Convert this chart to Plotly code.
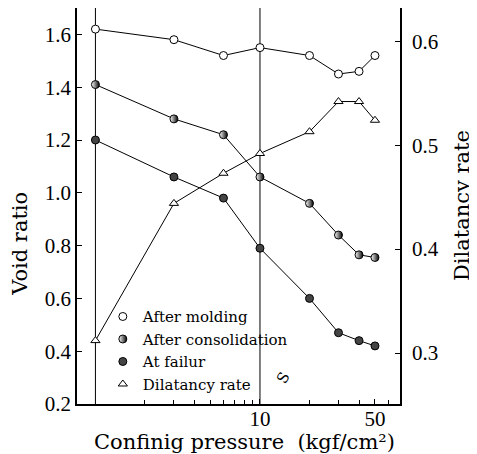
import plotly.graph_objects as go

# confining pressure (kgf/cm2)
pressure = [1, 3, 6, 10, 20, 30, 40, 50]

# void ratio (left axis)
after_molding = [1.62, 1.58, 1.52, 1.55, 1.52, 1.45, 1.46, 1.52]
after_consolidation = [1.41, 1.28, 1.22, 1.06, 0.96, 0.84, 0.765, 0.755]
at_failure = [1.20, 1.06, 0.98, 0.79, 0.60, 0.47, 0.44, 0.42]

# dilatancy rate (right axis)
dilatancy_rate = [0.312, 0.444, 0.473, 0.492, 0.513, 0.542, 0.542, 0.524]

serif = "Liberation Serif"
wide = "DejaVu Serif"

fig = go.Figure()

def addSeries(y, name, marker, axis="y"):
    # line without legend, then markers carrying the legend entry
    fig.add_trace(go.Scatter(x=pressure, y=y, mode="lines", yaxis=axis,
                             line=dict(color="black", width=1), showlegend=False,
                             hoverinfo="skip"))
    fig.add_trace(go.Scatter(x=pressure, y=y, mode="markers", name=name,
                             yaxis=axis, marker=marker))

addSeries(after_molding, "After molding",
          dict(symbol="circle", size=8, color="white", line=dict(color="black", width=1)))
addSeries(after_consolidation, "After consolidation",
          dict(symbol="circle", size=8, color="white",
               gradient=dict(type="horizontal", color="black"),
               line=dict(color="black", width=1)))
addSeries(at_failure, "At failur",
          dict(symbol="circle", size=8, color="#444", line=dict(color="black", width=1)))
addSeries(dilatancy_rate, "Dilatancy rate",
          dict(symbol="triangle-up", size=8, color="white", line=dict(color="black", width=1)),
          axis="y2")

# vertical reference lines at 1 and 10
for xv in [1, 10]:
    fig.add_shape(type="line", xref="x", yref="paper", x0=xv, x1=xv, y0=0, y1=1,
                  line=dict(color="black", width=1), layer="below")

titlefont = dict(family=wide, size=21, color="black")
fig.add_annotation(text="Void ratio", textangle=-90, xref="paper", yref="paper",
                   x=-0.177, y=0.404, xanchor="center", yanchor="middle",
                   showarrow=False, font=titlefont)
fig.add_annotation(text="Dilatancy rate", textangle=-90, xref="paper", yref="paper",
                   x=1.192, y=0.5, xanchor="center", yanchor="middle",
                   showarrow=False, font=titlefont)
fig.add_annotation(text="Confinig pressure  (kgf/cm²)", xref="paper", yref="paper",
                   x=0.52, y=-0.096, xanchor="center", yanchor="middle",
                   showarrow=False, font=titlefont)
fig.add_annotation(text="S", textangle=-60, xref="paper", yref="paper",
                   x=0.638, y=0.066, xanchor="center", yanchor="middle",
                   showarrow=False, font=dict(family=wide, size=15, color="black"))

# page body has an 8px margin, so the figure is laid out 8px up and left
fig.update_layout(
    width=477, height=454,
    margin=dict(l=69, r=85, t=0, b=58, autoexpand=False),
    plot_bgcolor="white", paper_bgcolor="white",
    font=dict(family=serif, color="black"),
    xaxis=dict(type="log", range=[-0.112, 1.851], automargin=False,
               tickvals=[10, 50], ticktext=["10", "50"],
               ticks="inside", ticklen=5, tickcolor="black",
               minor=dict(tickvals=[2, 3, 4, 5, 6, 7, 8, 9, 20, 30, 40, 60],
                          ticks="inside", ticklen=4, tickcolor="black"),
               tickfont=dict(family=serif, size=21), ticklabelstandoff=-5,
               showgrid=False, zeroline=False,
               showline=True, linecolor="black", linewidth=1.5, mirror=True),
    yaxis=dict(range=[0.2, 1.70], automargin=False,
               tickvals=[0.2, 0.4, 0.6, 0.8, 1.0, 1.2, 1.4, 1.6],
               ticktext=["0.2", "0.4", "0.6", "0.8", "1.0", "1.2", "1.4", "1.6"],
               ticks="inside", ticklen=5, tickcolor="black",
               tickfont=dict(family=serif, size=21),
               showgrid=False, zeroline=False,
               showline=True, linecolor="black", linewidth=1.5),
    yaxis2=dict(range=[0.251, 0.632], overlaying="y", side="right", automargin=False,
                tickvals=[0.3, 0.4, 0.5, 0.6], ticktext=["0.3", "0.4", "0.5", "0.6"],
                ticks="inside", ticklen=5, tickcolor="black",
                tickfont=dict(family=serif, size=21), ticklabelstandoff=6,
                showgrid=False, zeroline=False,
                showline=True, linecolor="black", linewidth=1.5),
    legend=dict(x=0.08, y=0.262, xanchor="left", yanchor="top",
                bgcolor="rgba(0,0,0,0)", itemwidth=30,
                font=dict(family=wide, size=15, color="black")),
)

fig.write_html("out.html")
